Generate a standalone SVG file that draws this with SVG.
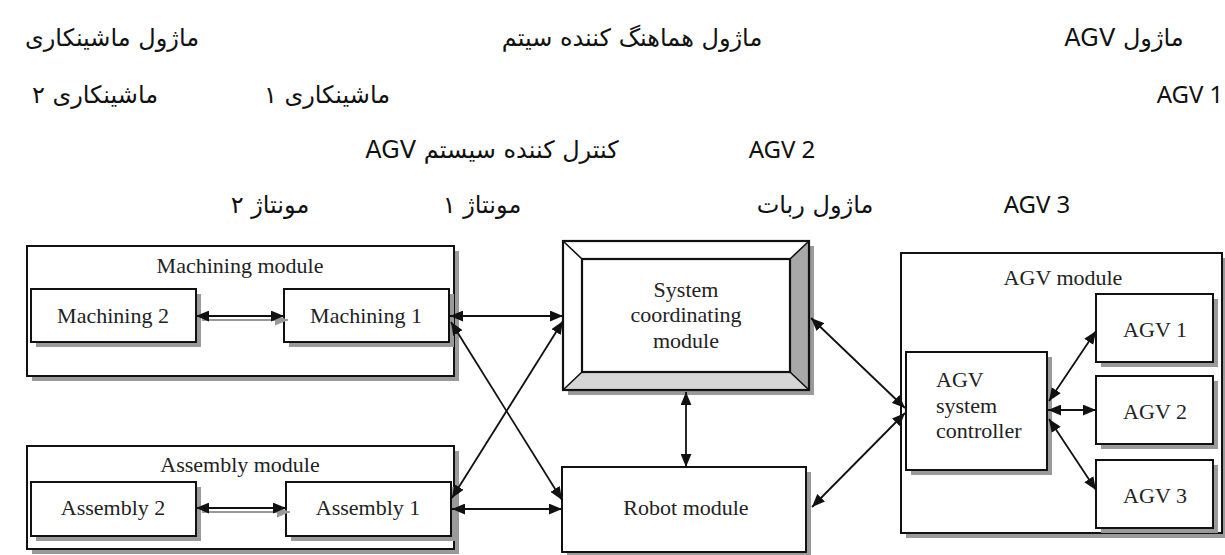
<svg xmlns="http://www.w3.org/2000/svg" width="1225" height="555" viewBox="0 0 1225 555">
  <style>
    .fa { font-family: "DejaVu Sans", "Noto Sans", sans-serif; font-size: 24px; fill: #111; direction: rtl; text-anchor: middle; }
    .en { font-family: "Noto Sans", "DejaVu Sans", sans-serif; font-size: 24px; fill: #111; text-anchor: middle; }
    .lbl { font-family: "Liberation Serif", "Times New Roman", serif; font-size: 22px; fill: #222; text-anchor: middle; }
    .lbl-left { font-family: "Liberation Serif", "Times New Roman", serif; font-size: 22px; fill: #222; text-anchor: start; }
    .box { fill: #fff; stroke: #111; stroke-width: 2; }
    .shadow { fill: #9a9a9a; }
    .wire { stroke: #111; stroke-width: 1.8; fill: none; marker-start: url(#head); marker-end: url(#head); }
    .wire-shadow { stroke: #999; stroke-width: 1.8; fill: none; marker-end: url(#headGray); }
  </style>
  <defs>
    <marker id="head" viewBox="0 0 12 10" refX="12" refY="5" markerWidth="13" markerHeight="11" markerUnits="userSpaceOnUse" orient="auto-start-reverse">
      <path d="M0,0 L12,5 L0,10 z" fill="#111"/>
    </marker>
    <marker id="headGray" viewBox="0 0 12 10" refX="12" refY="5" markerWidth="13" markerHeight="11" markerUnits="userSpaceOnUse" orient="auto-start-reverse">
      <path d="M0,0 L12,5 L0,10 z" fill="#999"/>
    </marker>
  </defs>
  <rect width="1225" height="555" fill="#fff"/>

  <!-- Persian glossary of the diagram terms -->
  <g id="glossary">
    <text class="fa" x="112" y="46">ماژول ماشینکاری</text>
    <text class="fa" x="632" y="46">ماژول هماهنگ کننده سیتم</text>
    <text class="fa" x="1124" y="46">ماژول AGV</text>
    <text class="fa" x="95" y="103">ماشینکاری ۲</text>
    <text class="fa" x="327" y="103">ماشینکاری ۱</text>
    <text class="en" x="1190" y="103">AGV 1</text>
    <text class="fa" x="492" y="158">کنترل کننده سیستم AGV</text>
    <text class="en" x="782" y="158">AGV 2</text>
    <text class="fa" x="270" y="213">مونتاژ ۲</text>
    <text class="fa" x="482" y="213">مونتاژ ۱</text>
    <text class="fa" x="815" y="213">ماژول ربات</text>
    <text class="en" x="1037" y="213">AGV 3</text>
  </g>

  <!-- Machining module -->
  <g id="machining-module">
    <rect class="shadow" x="32" y="251" width="427" height="130"/>
    <rect class="box" x="27" y="246" width="427" height="130"/>
    <text class="lbl" x="240" y="273">Machining module</text>
  </g>
  <g id="machining-2">
    <rect class="shadow" x="36" y="294" width="165" height="53"/>
    <rect class="box" x="31" y="289" width="165" height="53"/>
    <text class="lbl" x="113" y="323">Machining 2</text>
  </g>
  <g id="machining-1">
    <rect class="shadow" x="289" y="294" width="165" height="53"/>
    <rect class="box" x="284" y="289" width="165" height="53"/>
    <text class="lbl" x="366" y="323">Machining 1</text>
  </g>

  <!-- Assembly module -->
  <g id="assembly-module">
    <rect class="shadow" x="32" y="451" width="427" height="103"/>
    <rect class="box" x="27" y="446" width="427" height="103"/>
    <text class="lbl" x="240" y="472">Assembly module</text>
  </g>
  <g id="assembly-2">
    <rect class="shadow" x="36" y="487" width="165" height="54"/>
    <rect class="box" x="31" y="482" width="165" height="54"/>
    <text class="lbl" x="113" y="515">Assembly 2</text>
  </g>
  <g id="assembly-1">
    <rect class="shadow" x="291" y="487" width="165" height="54"/>
    <rect class="box" x="286" y="482" width="165" height="54"/>
    <text class="lbl" x="368" y="515">Assembly 1</text>
  </g>

  <!-- System coordinating module: bevelled frame -->
  <g id="system-coordinating-module">
    <rect class="shadow" x="568" y="246" width="246" height="149"/>
    <polygon points="563,241 809,241 790,259 582,259" fill="#fff"/>
    <polygon points="563,241 582,259 582,372 563,390" fill="#fff"/>
    <polygon points="809,241 809,390 790,372 790,259" fill="#a8a8a8"/>
    <polygon points="563,390 582,372 790,372 809,390" fill="#d6d6d6"/>
    <rect x="563" y="241" width="246" height="149" fill="none" stroke="#111" stroke-width="2.2"/>
    <rect x="582" y="259" width="208" height="113" fill="#fff" stroke="#111" stroke-width="2.2"/>
    <path d="M563,241 L582,259 M809,241 L790,259 M563,390 L582,372 M809,390 L790,372" stroke="#111" stroke-width="1.6"/>
    <text class="lbl" x="686" y="297">System</text>
    <text class="lbl" x="686" y="322">coordinating</text>
    <text class="lbl" x="686" y="348">module</text>
  </g>

  <!-- Robot module -->
  <g id="robot-module">
    <rect class="shadow" x="567" y="472" width="244" height="85"/>
    <rect class="box" x="562" y="467" width="244" height="85"/>
    <text class="lbl" x="686" y="515">Robot module</text>
  </g>

  <!-- AGV module -->
  <g id="agv-module">
    <rect class="shadow" x="906" y="258" width="321" height="280"/>
    <rect class="box" x="901" y="253" width="321" height="280"/>
    <text class="lbl" x="1063" y="285">AGV module</text>
  </g>
  <g id="agv-system-controller">
    <rect class="shadow" x="911" y="357" width="141" height="118"/>
    <rect class="box" x="906" y="352" width="141" height="118"/>
    <text class="lbl-left" x="936" y="387">AGV</text>
    <text class="lbl-left" x="936" y="413">system</text>
    <text class="lbl-left" x="936" y="438">controller</text>
  </g>
  <g id="agv-1">
    <rect class="shadow" x="1101" y="299" width="117" height="68"/>
    <rect class="box" x="1096" y="294" width="117" height="68"/>
    <text class="lbl" x="1155" y="337">AGV 1</text>
  </g>
  <g id="agv-2">
    <rect class="shadow" x="1101" y="381" width="117" height="68"/>
    <rect class="box" x="1096" y="376" width="117" height="68"/>
    <text class="lbl" x="1155" y="419">AGV 2</text>
  </g>
  <g id="agv-3">
    <rect class="shadow" x="1101" y="465" width="117" height="68"/>
    <rect class="box" x="1096" y="460" width="117" height="68"/>
    <text class="lbl" x="1155" y="503">AGV 3</text>
  </g>

  <!-- Connectors (all two-way) -->
  <g id="connectors">
    <line class="wire-shadow" x1="202" y1="320" x2="288" y2="320"/>
    <line class="wire" x1="196" y1="316" x2="284" y2="316"/>
    <line class="wire-shadow" x1="202" y1="512" x2="290" y2="512"/>
    <line class="wire" x1="196" y1="508" x2="286" y2="508"/>

    <line class="wire" x1="450" y1="316" x2="563" y2="316"/>
    <line class="wire" x1="451" y1="322" x2="562" y2="500"/>
    <line class="wire" x1="452" y1="498" x2="563" y2="321"/>
    <line class="wire" x1="452" y1="509" x2="562" y2="509"/>
    <line class="wire" x1="686" y1="392" x2="686" y2="467"/>

    <line class="wire" x1="811" y1="318" x2="905" y2="408"/>
    <line class="wire" x1="812" y1="507" x2="905" y2="413"/>

    <line class="wire" x1="1049" y1="401" x2="1096" y2="331"/>
    <line class="wire" x1="1048" y1="410" x2="1096" y2="410"/>
    <line class="wire" x1="1049" y1="419" x2="1096" y2="490"/>
  </g>
</svg>
